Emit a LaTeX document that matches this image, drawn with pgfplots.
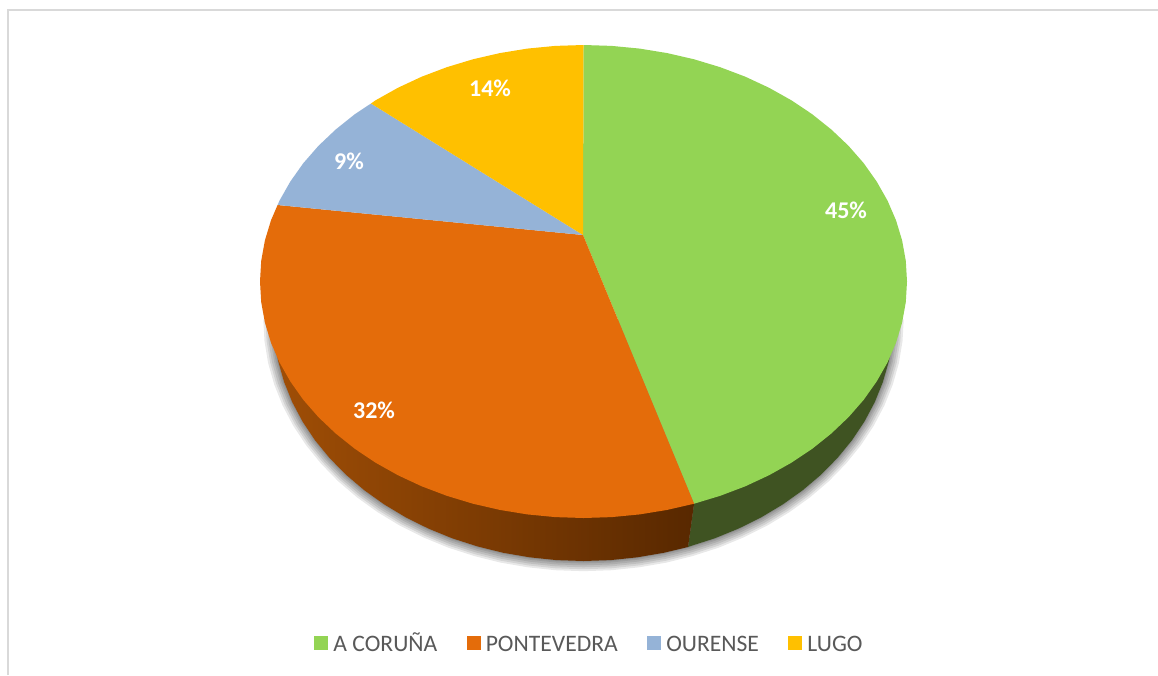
\documentclass[border=0pt]{standalone}
\usepackage{pgfplots}
\usepackage{pgfplotstable}
\usepackage{fontspec}
\setmainfont{Carlito}
\pgfplotsset{compat=1.18}
\definecolor{cgreen}{HTML}{93D454}
\definecolor{corange}{HTML}{E46C0A}
\definecolor{cblue}{HTML}{95B3D7}
\definecolor{cgold}{HTML}{FFC000}
\definecolor{wgreen}{HTML}{3F5322}
\definecolor{frame}{HTML}{D9D9D9}
\pgfplotstableread{
x y
273.5 319.3
274.7 340.4
278.2 361.3
284.1 381.9
292.2 402
302.5 421.4
315 440.2
329.5 457.9
346 474.7
364.3 490.2
384.2 504.4
405.7 517.3
428.5 528.6
452.5 538.4
477.5 546.4
503.3 552.8
529.7 557.3
556.5 560.1
583.5 561
610.5 560.1
637.3 557.3
663.7 552.8
689.5 546.4
714.5 538.4
738.5 528.6
761.3 517.3
782.8 504.4
802.7 490.2
821 474.7
837.5 457.9
852 440.2
864.5 421.4
874.8 402
882.9 381.9
888.8 361.3
892.3 340.4
893.5 319.3
}\rim
\newcommand{\shadowlayer}[2]{%
  \addplot[forget plot, draw=none, fill=black, fill opacity=0.09]
    table[x expr={583.5+(\thisrow{x}-583.5)*#1}, y expr={319.3+(\thisrow{y}-319.3)*#2}] {\rim} -- cycle;
}
\newcommand{\lent}[1]{\hspace{3pt}\rule{0pt}{19pt}#1}
\begin{document}
\begin{tikzpicture}
\begin{axis}[
  width=1158pt, height=675pt, scale only axis,
  xmin=0, xmax=1158, ymin=0, ymax=675, y dir=reverse,
  hide axis,
  legend style={at={(axis cs:589.5,643)}, anchor=center, draw=none, fill=none,
    legend columns=4, font=\fontsize{23.6}{26}\selectfont\color[HTML]{595959},
    /tikz/every even column/.style={column sep=27.5pt}},
  legend cell align=left,
  legend image code/.code={\fill[#1,draw=none] (0pt,-7pt) rectangle (14pt,7pt);},
]
\addplot[forget plot, draw=none, fill=white] coordinates {(0,0)(1158,0)(1158,675)(0,675)} -- cycle;
\addplot[forget plot, color=frame, line width=2.2pt] coordinates {(8,675)(8,10)(1158,10)};
\shadowlayer{1.033}{1.042}
\shadowlayer{1.026}{1.034}
\shadowlayer{1.020}{1.026}
\shadowlayer{1.013}{1.018}
\shadowlayer{1.008}{1.010}
\shadowlayer{1.003}{1.004}
% side walls
\addplot[forget plot, draw=none, fill=wgreen] coordinates {
(694.1,503.7)(688,547)(689.5,546.4)(714.5,538.4)(738.5,528.6)(761.3,517.3)(782.8,504.4)(802.7,490.2)(821,474.7)(837.5,457.9)(852,440.2)(864.5,421.4)(874.8,402)(882.9,381.9)(888.8,361.3)(892.3,340.4)(893.5,319.3)(800,300)} -- cycle;
\addplot[forget plot, draw=none, shading=axis, left color={rgb,255:red,160;green,78;blue,6}, middle color={rgb,255:red,104;green,48;blue,4}, right color={rgb,255:red,88;green,40;blue,0}] coordinates {
(694.1,503.7)(688,547)(663.7,552.8)(637.3,557.3)(610.5,560.1)(583.5,561)(556.5,560.1)(529.7,557.3)(503.3,552.8)(477.5,546.4)(452.5,538.4)(428.5,528.6)(405.7,517.3)(384.2,504.4)(364.3,490.2)(346,474.7)(329.5,457.9)(315,440.2)(302.5,421.4)(292.2,402)(284.1,381.9)(278.2,361.3)(274.7,340.4)(273.5,319.3)(400,300)} -- cycle;
% top slices
\addplot[draw=none, fill=cgreen] coordinates {
(583,235)(583.5,45)(611.7,45.9)(639.7,48.6)(667.2,53.1)(694.1,59.3)(720.2,67.2)(745.3,76.7)(769.1,87.8)(791.4,100.3)(812.3,114.3)(831.3,129.5)(848.5,145.8)(863.7,163.2)(876.7,181.6)(887.5,200.6)(896,220.3)(902.1,240.4)(905.8,260.9)(907,281.5)(905.8,302.1)(902.1,322.6)(896,342.7)(887.5,362.4)(876.7,381.4)(863.7,399.8)(848.5,417.2)(831.3,433.5)(812.3,448.7)(791.4,462.7)(769.1,475.2)(745.3,486.3)(720.2,495.8)(694.1,503.7)} -- cycle;
\addlegendentry{\lent{A CORUÑA}}
\addplot[draw=none, fill=corange] coordinates {
(583,235)(694.1,503.7)(667.2,509.9)(639.7,514.4)(611.7,517.1)(583.5,518)(555.3,517.1)(527.3,514.4)(499.8,509.9)(472.9,503.7)(446.8,495.8)(421.7,486.3)(397.9,475.2)(375.6,462.7)(354.7,448.7)(335.7,433.5)(318.5,417.2)(303.3,399.8)(290.3,381.4)(279.5,362.4)(271,342.7)(264.9,322.6)(261.2,302.1)(260,281.5)(261.2,260.9)(264.9,240.4)(271,220.3)(277.6,205)} -- cycle;
\addlegendentry{\lent{PONTEVEDRA}}
\addplot[draw=none, fill=cblue] coordinates {
(583,235)(277.6,205)(279.5,200.6)(290.3,181.6)(303.3,163.2)(318.5,145.8)(335.7,129.5)(354.7,114.3)(371,103.5)} -- cycle;
\addlegendentry{\lent{OURENSE}}
\addplot[draw=none, fill=cgold] coordinates {
(583,235)(371,103.5)(375.6,100.3)(397.9,87.8)(421.7,76.7)(446.8,67.2)(472.9,59.3)(499.8,53.1)(527.3,48.6)(555.3,45.9)(583.5,45)} -- cycle;
\addlegendentry{\lent{LUGO}}
\node[text=white, font=\fontsize{24}{26}\selectfont\bfseries] at (axis cs:846,210) {45\%};
\node[text=white, font=\fontsize{24}{26}\selectfont\bfseries] at (axis cs:374,410) {32\%};
\node[text=white, font=\fontsize{24}{26}\selectfont\bfseries] at (axis cs:349,161) {9\%};
\node[text=white, font=\fontsize{24}{26}\selectfont\bfseries] at (axis cs:490,88) {14\%};
\end{axis}
\end{tikzpicture}
\end{document}
